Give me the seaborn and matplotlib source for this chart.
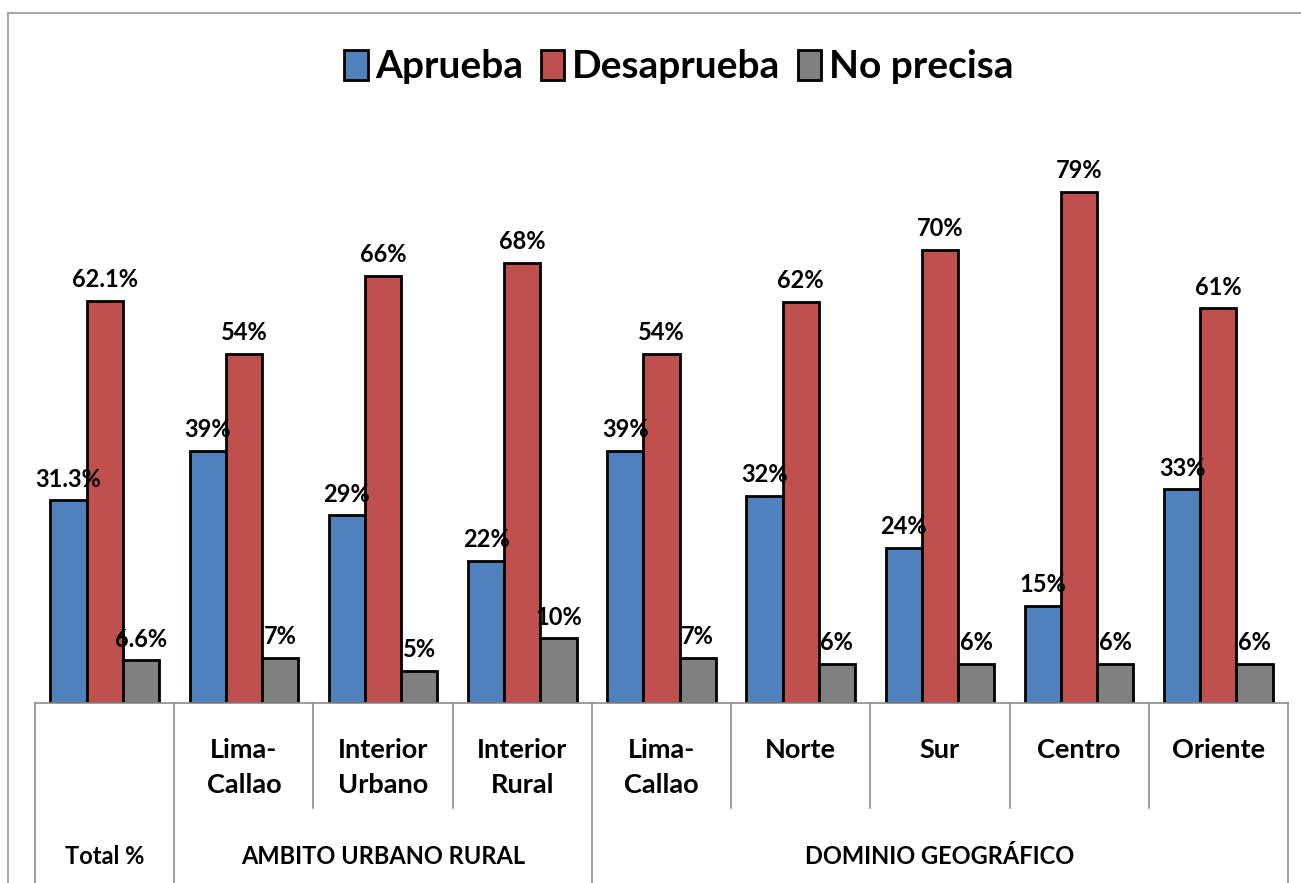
import pandas as pd
import matplotlib.pyplot as plt
import seaborn as sns
from matplotlib.lines import Line2D
from matplotlib.transforms import blended_transform_factory

# datos
claves = ["total", "lc1", "iu", "ir", "lc2", "norte", "sur", "centro", "oriente"]
etiquetas_cat = ["", "Lima-\nCallao", "Interior\nUrbano", "Interior\nRural",
                 "Lima-\nCallao", "Norte", "Sur", "Centro", "Oriente"]
grupos = ["Total %", "AMBITO URBANO RURAL", "DOMINIO GEOGRÁFICO"]
series = ["Aprueba", "Desaprueba", "No precisa"]

aprueba = [31.3, 39, 29, 22, 39, 32, 24, 15, 33]
desaprueba = [62.1, 54, 66, 68, 54, 62, 70, 79, 61]
no_precisa = [6.6, 7, 5, 10, 7, 6, 6, 6, 6]

lab_aprueba = ["31.3%", "39%", "29%", "22%", "39%", "32%", "24%", "15%", "33%"]
lab_desaprueba = ["62.1%", "54%", "66%", "68%", "54%", "62%", "70%", "79%", "61%"]
lab_no_precisa = ["6.6%", "7%", "5%", "10%", "7%", "6%", "6%", "6%", "6%"]

colores = ["#4F81BD", "#C0504D", "#808080"]

df = pd.DataFrame({
    "clave": claves * 3,
    "serie": [s for s in series for _ in claves],
    "valor": aprueba + desaprueba + no_precisa,
})

W, H = 1301, 883
fig = plt.figure(figsize=(W / 100, H / 100), dpi=100)
plt.rcParams["font.family"] = ["Lato", "DejaVu Sans"]
plt.rcParams["font.weight"] = "bold"

ax = fig.add_axes([35 / W, 1 - 703 / H, 1253 / W, 573 / H])
sns.barplot(data=df, x="clave", y="valor", hue="serie", order=claves,
            hue_order=series, palette=colores, width=0.78,
            edgecolor="black", linewidth=2, saturation=1, ax=ax)

ax.set_xlim(-0.5, 8.5)
ax.set_ylim(0, 573 / 6.47)
ax.set_xlabel("")
ax.set_ylabel("")
ax.set_xticks([])
ax.set_yticks([])
for s in ax.spines.values():
    s.set_visible(False)

# etiquetas de datos
for cont, labs in zip(ax.containers, [lab_aprueba, lab_desaprueba, lab_no_precisa]):
    ax.bar_label(cont, labels=labs, padding=7, fontsize=17, fontweight="bold")

# eje de categorias en dos niveles
tr = blended_transform_factory(ax.transData, ax.transAxes)
gris = "#8C8C8C"
ax.plot([-0.5, 8.5], [0, 0], color=gris, lw=1.2, transform=tr, clip_on=False)
largos = {-0.5: -0.32, 0.5: -0.32, 3.5: -0.32, 8.5: -0.32}
for b in [-0.5 + i for i in range(10)]:
    y_fin = largos.get(b, -105 / 573)
    ax.plot([b, b], [0, y_fin], color=gris, lw=1.2, transform=tr, clip_on=False)

for i, t in enumerate(etiquetas_cat):
    ax.text(i, -35 / 573, t, transform=tr, ha="center", va="top",
            fontsize=19.5, fontweight="bold", linespacing=1.55)

for x, g in zip([0, 2, 6], grupos):
    ax.text(x, -153 / 573, g, transform=tr, ha="center", va="center",
            fontsize=17, fontweight="bold")

# leyenda arriba
h, l = ax.get_legend_handles_labels()
ax.get_legend().remove()
fig.legend(h, l, loc="center", bbox_to_anchor=(679 / W, 1 - 67 / H), ncol=3,
           frameon=False, handlelength=0.6, handleheight=0.8,
           handletextpad=0.2, columnspacing=0.45, prop={"weight": "bold", "size": 28})

# borde del area del grafico
fig.add_artist(Line2D([8 / W, 8 / W], [0, 1 - 13 / H], color="#A6A6A6", lw=1.5))
fig.add_artist(Line2D([8 / W, 1], [1 - 13 / H, 1 - 13 / H], color="#A6A6A6", lw=1.5))

fig.savefig("out.png", dpi=100)
